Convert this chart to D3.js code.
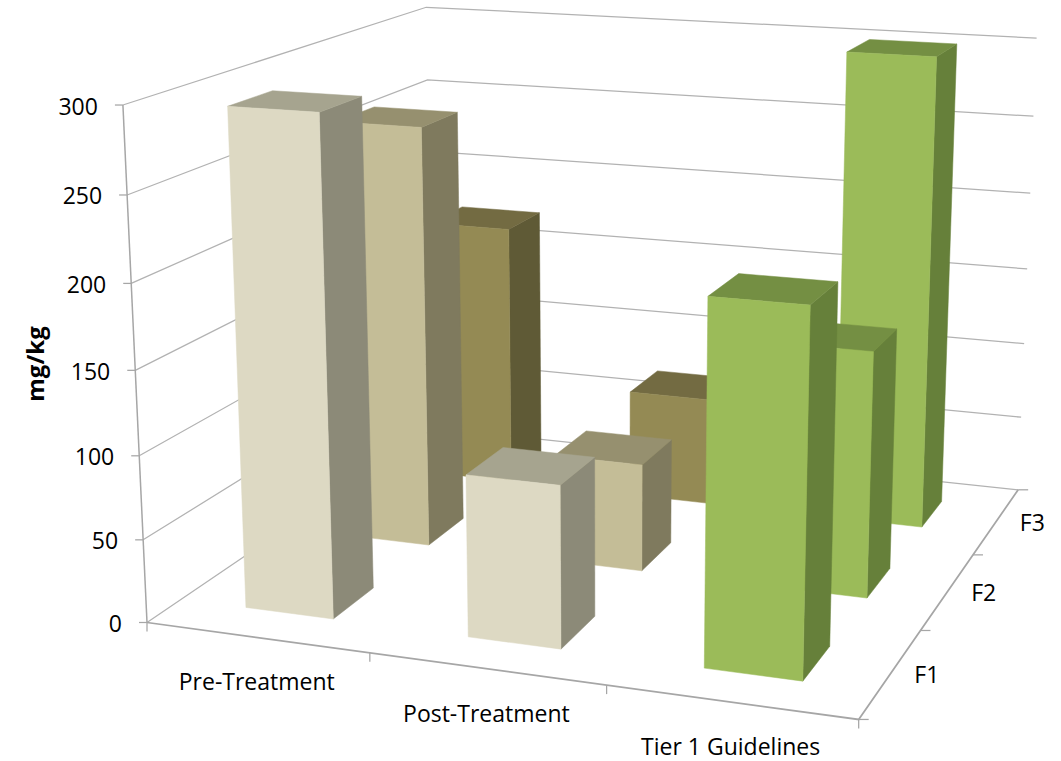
<!DOCTYPE html>
<html>
<head>
<meta charset="utf-8">
<script src="https://cdn.jsdelivr.net/npm/d3@7/dist/d3.min.js"></script>
<style>
  html, body { margin: 0; padding: 0; background: #fff; }
  svg { display: block; }
  text { font-family: "Open Sans", Lato, sans-serif; fill: #000; }
</style>
</head>
<body>
<svg id="chart" width="1061" height="761"></svg>
<script>
// Chart content
const categories = ["Pre-Treatment", "Post-Treatment", "Tier 1 Guidelines"];
const seriesNames = ["F1", "F2", "F3"];
const valueTicks = [0, 50, 100, 150, 200, 250, 300];
const f1Values = [295, 96, 210];
const f2Values = [263, 67, 150];
const f3Values = [172, 70, 300];
const seriesValues = [f1Values, f2Values, f3Values];

// Face colours per category, then per series: front, side, top
const preShades = [["#ddd9c3", "#8c8a78", "#a6a48f"], ["#c4bd97", "#7f7a5e", "#96906f"], ["#948a54", "#5f5a36", "#736b42"]];
const greenShades = ["#9bbb59", "#66803a", "#748f43"];
const faceColors = [preShades, preShades, [greenShades, greenShades, greenShades]];

// Where the plot box's corners and axis ticks sit on the page: [u, v, w, x, y].
// u runs along the categories, v along the series, w up the value axis.
const third = 1 / 3;
const cameraAnchors = [
  [0, 0, 0, 146, 622], [1, 0, 0, 858, 718], [1, 1, 0, 1017, 490], [0, 1, 0, 435, 428],
  [0, 0, 1, 124, 105.5], [0, 1, 1, 425, 7], [1, 1, 1, 1037, 38],
  [third, 0, 0, 369, 653], [2 * third, 0, 0, 607, 686],
  [1, third, 0, 922, 631], [1, 2 * third, 0, 973, 555]
];

// Solve a small linear system by Gaussian elimination with pivoting
function solveLinear(A, b) {
  const n = b.length, M = A.map((row, i) => [...row, b[i]]);
  for (let c = 0; c < n; c++) {
    let piv = c;
    for (let r = c + 1; r < n; r++) if (Math.abs(M[r][c]) > Math.abs(M[piv][c])) piv = r;
    [M[c], M[piv]] = [M[piv], M[c]];
    for (let r = 0; r < n; r++) {
      if (r === c) continue;
      const f = M[r][c] / M[c][c];
      for (let k = c; k <= n; k++) M[r][k] -= f * M[c][k];
    }
  }
  return M.map((row, i) => row[n] / row[i]);
}

// Least-squares fit of a pinhole camera (3x4 projective matrix) to the anchors
function fitCamera(anchors) {
  const rows = [], rhs = [];
  anchors.forEach(([u, v, w, x, y]) => {
    rows.push([u, v, w, 1, 0, 0, 0, 0, -x * u, -x * v, -x * w]); rhs.push(x);
    rows.push([0, 0, 0, 0, u, v, w, 1, -y * u, -y * v, -y * w]); rhs.push(y);
  });
  const n = 11;
  const AtA = d3.range(n).map(i => d3.range(n).map(j => d3.sum(rows, r => r[i] * r[j])));
  const Atb = d3.range(n).map(i => d3.sum(rows, (r, k) => r[i] * rhs[k]));
  return solveLinear(AtA, Atb);
}

const cam = fitCamera(cameraAnchors);
function project(u, v, w) {
  const d = cam[8] * u + cam[9] * v + cam[10] * w + 1;
  return [(cam[0] * u + cam[1] * v + cam[2] * w + cam[3]) / d,
          (cam[4] * u + cam[5] * v + cam[6] * w + cam[7]) / d];
}

// Scales from data to the unit plot box; 150% gaps on both floor directions
const uScale = d3.scaleBand().domain(categories).range([0, 1]).paddingInner(0.6).paddingOuter(0.3);
const vScale = d3.scaleBand().domain(seriesNames).range([0, 1]).paddingInner(0.6).paddingOuter(0.3);
const wScale = d3.scaleLinear().domain([0, 300]).range([0, 1]);

const svg = d3.select("#chart");
const polyLine = d3.line();
const gridColor = "#b2b2b2", axisColor = "#a6a6a6";
const labelSize = 23;

// Gridlines wrap from the left wall onto the back wall
svg.append("g").selectAll("path").data(valueTicks).join("path")
  .attr("d", t => polyLine([project(0, 0, wScale(t)), project(0, 1, wScale(t)), project(1, 1, wScale(t))]))
  .attr("fill", "none").attr("stroke", gridColor).attr("stroke-width", 1.25);

// Value axis with ticks and labels
const valueAxis = svg.append("g");
valueAxis.append("path").attr("d", polyLine([project(0, 0, 0), project(0, 0, 1)]))
  .attr("fill", "none").attr("stroke", axisColor).attr("stroke-width", 1.5);
const valueTick = valueAxis.selectAll("g").data(valueTicks).join("g")
  .attr("transform", t => `translate(${project(0, 0, wScale(t))})`);
valueTick.append("line").attr("x1", -8).attr("x2", 0).attr("stroke", axisColor).attr("stroke-width", 1.25);
valueTick.append("text").attr("x", -25).attr("y", 9.5).attr("text-anchor", "end")
  .attr("font-size", labelSize).text(d => d);

// Floor edges
svg.append("path").attr("d", polyLine([project(0, 0, 0), project(1, 0, 0), project(1, 1, 0)]))
  .attr("fill", "none").attr("stroke", axisColor).attr("stroke-width", 1.75);

// Category ticks point down, series ticks point right
const edgeStops = d3.range(0, 4).map(i => i / 3);
svg.append("g").selectAll("line").data(edgeStops).join("line")
  .attr("transform", s => `translate(${project(s, 0, 0)})`)
  .attr("y2", 9).attr("stroke", axisColor).attr("stroke-width", 1.25);
svg.append("g").selectAll("line").data(edgeStops).join("line")
  .attr("transform", s => `translate(${project(1, s, 0)})`)
  .attr("x2", 10).attr("stroke", axisColor).attr("stroke-width", 1.25);

// Bars, painted from the back row forward and left to right within a row
const bars = [];
seriesNames.slice().reverse().forEach(series => {
  const j = seriesNames.indexOf(series);
  categories.forEach((cat, i) => bars.push({ cat, series, i, j, value: seriesValues[j][i] }));
});

const barGroups = svg.append("g").selectAll("g").data(bars).join("g");
const facePath = corners => polyLine(corners) + "Z";
barGroups.each(function (b) {
  const g = d3.select(this);
  const u0 = uScale(b.cat), u1 = u0 + uScale.bandwidth();
  const v0 = vScale(b.series), v1 = v0 + vScale.bandwidth();
  const w = wScale(b.value);
  const [front, side, top] = faceColors[b.i][b.j];
  [
    [side, [[u1, v0, 0], [u1, v1, 0], [u1, v1, w], [u1, v0, w]]],
    [top, [[u0, v0, w], [u1, v0, w], [u1, v1, w], [u0, v1, w]]],
    [front, [[u0, v0, 0], [u1, v0, 0], [u1, v0, w], [u0, v0, w]]]
  ].forEach(([color, corners]) => {
    g.append("path").attr("d", facePath(corners.map(c => project(...c))))
      .attr("fill", color).attr("stroke", color).attr("stroke-width", 0.5);
  });
});

// Category and series labels hang off the floor edges
svg.append("g").selectAll("text").data(categories).join("text")
  .attr("transform", c => {
    const [x, y] = project(uScale(c) + uScale.bandwidth() / 2, 0, 0);
    return `translate(${x},${y + 53})`;
  })
  .attr("text-anchor", "middle").attr("font-size", labelSize).text(d => d);
svg.append("g").selectAll("text").data(seriesNames).join("text")
  .attr("transform", s => {
    const [x, y] = project(1, vScale(s) + vScale.bandwidth() / 2, 0);
    return `translate(${x + 36},${y + 10})`;
  })
  .attr("text-anchor", "middle").attr("font-size", labelSize).text(d => d);

// Value axis title
svg.append("text").attr("transform", "translate(44,364) rotate(-90)")
  .attr("text-anchor", "middle").attr("font-size", 24).attr("font-weight", 700).text("mg/kg");
</script>
</body>
</html>
